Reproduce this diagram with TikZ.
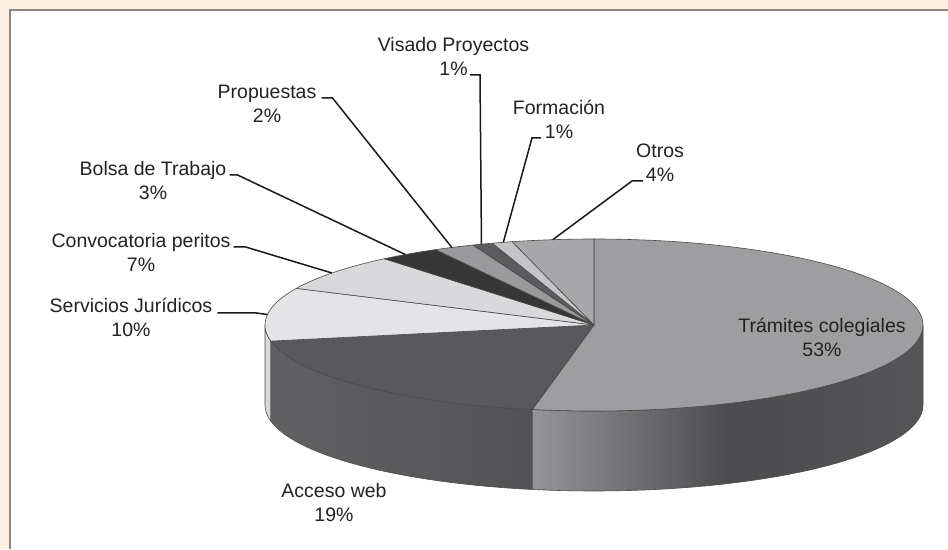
\documentclass[tikz,border=0pt]{standalone}
\usepackage{fontspec}
\setmainfont{Liberation Sans}
\definecolor{pagebg}{HTML}{FEF1E3}
\definecolor{frameline}{HTML}{8A8785}
\definecolor{rimline}{HTML}{4A4A4C}
\definecolor{labeltext}{HTML}{222222}
\definecolor{tramtop}{HTML}{9E9EA0}
\definecolor{acctop}{HTML}{59595B}
\definecolor{servtop}{HTML}{E4E4E6}
\definecolor{convtop}{HTML}{D9D9DB}
\definecolor{bolsatop}{HTML}{363637}
\definecolor{proptop}{HTML}{9A9A9C}
\definecolor{vistop}{HTML}{5C5C5E}
\definecolor{formtop}{HTML}{C4C4C6}
\definecolor{otrostop}{HTML}{A8A8AA}
\definecolor{tsideL}{HTML}{959597}
\definecolor{tsideM}{HTML}{4C4C4E}
\definecolor{tsideR}{HTML}{555557}
\definecolor{asideL}{HTML}{616163}
\definecolor{asideR}{HTML}{4F4F51}
\definecolor{sside}{HTML}{D8D8DA}
\usetikzlibrary{positioning}
\begin{document}
\begin{tikzpicture}[x=1pt,y=1pt,
    lbl/.style={align=center,anchor=base,inner sep=0pt,text=labeltext,font=\fontsize{19.5}{23.5}\selectfont},
    wedge/.style={draw=rimline,line width=0.6pt,line join=round},
    leader/.style={draw=black!90,line width=1.5pt}]
  \useasboundingbox (0,0) rectangle (948,549);
  \fill[pagebg] (0,0) rectangle (948,549);
  \fill[white] (10,0) rectangle (948,539);
  \draw[frameline,line width=2pt] (948,539) -- (10,539) -- (10,0);
  \coordinate (c) at (594,224);
  \shadedraw[wedge,left color=sside,right color=sside] (c) ++(180:329pt and 86pt)
    arc[start angle=180,end angle=190.8,x radius=329pt,y radius=86pt] -- ++(0,-80)
    arc[start angle=190.8,end angle=180,x radius=329pt,y radius=86pt] -- cycle;
  \shadedraw[wedge,left color=asideL,right color=asideR] (c) ++(190.8:329pt and 86pt)
    arc[start angle=190.8,end angle=259.2,x radius=329pt,y radius=86pt] -- ++(0,-80)
    arc[start angle=259.2,end angle=190.8,x radius=329pt,y radius=86pt] -- cycle;
  \shadedraw[wedge,left color=tsideL,right color=tsideR,middle color=tsideM] (c) ++(259.2:329pt and 86pt)
    arc[start angle=259.2,end angle=360,x radius=329pt,y radius=86pt] -- ++(0,-80)
    arc[start angle=360,end angle=259.2,x radius=329pt,y radius=86pt] -- cycle;
  \filldraw[wedge,fill=tramtop] (c) -- ++(-100.8:329pt and 86pt)
    arc[start angle=-100.8,end angle=90,x radius=329pt,y radius=86pt] -- cycle;
  \filldraw[wedge,fill=acctop] (c) -- ++(-169.2:329pt and 86pt)
    arc[start angle=-169.2,end angle=-100.8,x radius=329pt,y radius=86pt] -- cycle;
  \filldraw[wedge,fill=servtop] (c) -- ++(154.8:329pt and 86pt)
    arc[start angle=154.8,end angle=190.8,x radius=329pt,y radius=86pt] -- cycle;
  \filldraw[wedge,fill=convtop] (c) -- ++(129.6:329pt and 86pt)
    arc[start angle=129.6,end angle=154.8,x radius=329pt,y radius=86pt] -- cycle;
  \filldraw[wedge,fill=bolsatop] (c) -- ++(118.8:329pt and 86pt)
    arc[start angle=118.8,end angle=129.6,x radius=329pt,y radius=86pt] -- cycle;
  \filldraw[wedge,fill=proptop] (c) -- ++(111.6:329pt and 86pt)
    arc[start angle=111.6,end angle=118.8,x radius=329pt,y radius=86pt] -- cycle;
  \filldraw[wedge,fill=vistop] (c) -- ++(108:329pt and 86pt)
    arc[start angle=108,end angle=111.6,x radius=329pt,y radius=86pt] -- cycle;
  \filldraw[wedge,fill=formtop] (c) -- ++(104.4:329pt and 86pt)
    arc[start angle=104.4,end angle=108,x radius=329pt,y radius=86pt] -- cycle;
  \filldraw[wedge,fill=otrostop] (c) -- ++(90:329pt and 86pt)
    arc[start angle=90,end angle=104.4,x radius=329pt,y radius=86pt] -- cycle;
  \path (c) ++(110:329pt and 86pt) coordinate (rvis)
        (c) ++(106:329pt and 86pt) coordinate (rform)
        (c) ++(97.2:329pt and 86pt) coordinate (rotros)
        (c) ++(115.6:329pt and 86pt) coordinate (rprop)
        (c) ++(125:329pt and 86pt) coordinate (rbolsa)
        (c) ++(142.8:329pt and 86pt) coordinate (rconv)
        (c) ++(173:329pt and 86pt) coordinate (rserv);
  \node[lbl] (vis) at (453.5,473.5) {Visado Proyectos\\1\%};
  \node[lbl] (form) at (559,410.5) {Formación\\1\%};
  \node[lbl] (otros) at (660,367.5) {Otros\\4\%};
  \node[lbl] (prop) at (267,426.5) {Propuestas\\2\%};
  \node[lbl] (bolsa) at (153,349.5) {Bolsa de Trabajo\\3\%};
  \node[lbl] (conv) at (141,277.5) {Convocatoria peritos\\7\%};
  \node[lbl] (serv) at (131,212.5) {Servicios Jurídicos\\10\%};
  \node[lbl] (tram) at (822,192.5) {Trámites colegiales\\53\%};
  \node[lbl] (acc) at (334,27.5) {Acceso web\\19\%};
  \begin{scope}[leader]
    \draw ([shift={(16.5,0.5)}]vis.base) -- ++(10,0) -- (rvis);
    \draw ([shift={(-18,0.5)}]form.base) -- ++(-9,0) -- (rform);
    \draw ([shift={(-17,0.5)}]otros.base) -- ++(-11,0) -- (rotros);
    \draw ([shift={(5,24.5)}]prop.base east) -- ++(11,0) -- (rprop);
    \draw ([shift={(3,24.5)}]bolsa.base east) -- ++(8,0) -- (rbolsa);
    \draw ([shift={(3,24.5)}]conv.base east) -- ++(12,0) -- (rconv);
    \draw ([shift={(5,23.5)}]serv.base east) -- ++(39,0) -- (rserv);
  \end{scope}
\end{tikzpicture}
\end{document}
